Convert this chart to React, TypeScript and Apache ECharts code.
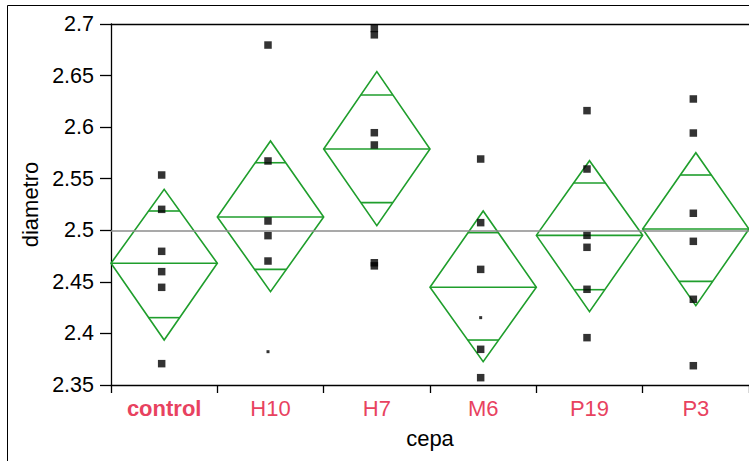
import React, { useEffect, useRef } from "react";
import * as echarts from "echarts";

const categories = ["control", "H10", "H7", "M6", "P19", "P3"];

// individual observations (large squares), per category
const pointsControl = [2.5536, 2.5203, 2.4796, 2.4599, 2.4447, 2.3707];
const pointsH10 = [2.6796, 2.5672, 2.509, 2.4948, 2.4702];
const pointsH7 = [2.6956, 2.6895, 2.5946, 2.5827, 2.4685, 2.4655];
const pointsM6 = [2.5691, 2.5074, 2.4621, 2.3846, 2.3571];
const pointsP19 = [2.616, 2.5594, 2.4951, 2.4835, 2.4428, 2.3959];
const pointsP3 = [2.6273, 2.5943, 2.5165, 2.4893, 2.4331, 2.3687];
const pointGroups = [pointsControl, pointsH10, pointsH7, pointsM6, pointsP19, pointsP3];

// small dots
const smallPointCategory = [1, 3];
const smallPointValues = [2.3823, 2.4153];

// means diamonds
const diamondTop = [2.5397, 2.5866, 2.6538, 2.5187, 2.5675, 2.5752];
const diamondUpper = [2.5187, 2.5655, 2.6312, 2.4977, 2.5458, 2.5536];
const means = [2.468, 2.5129, 2.5788, 2.4447, 2.4951, 2.5012];
const diamondLower = [2.4153, 2.4621, 2.5268, 2.3936, 2.4424, 2.4505];
const diamondBottom = [2.3936, 2.4405, 2.5045, 2.3726, 2.4211, 2.4269];

const grandMean = 2.501;

const yTicks = { min: 2.35, max: 2.7, interval: 0.05 };

const GREEN = "#1f9e2c";
const LABEL = "#e8425f";
const FONT = "'Liberation Sans', Arial, sans-serif";

export default function App() {
  const ref = useRef<HTMLDivElement>(null);

  useEffect(() => {
    if (!ref.current) return;
    const chart = echarts.init(ref.current, undefined, { renderer: "svg" });

    const scatterData: number[][] = [];
    pointGroups.forEach((g, i) => g.forEach((v) => scatterData.push([i, v])));
    const smallData = smallPointCategory.map((c, k) => [c, smallPointValues[k]]);
    const diamondData = categories.map((_, i) => [
      i,
      diamondTop[i],
      diamondUpper[i],
      means[i],
      diamondLower[i],
      diamondBottom[i],
    ]);

    const option: any = {
      animation: false,
      backgroundColor: "#fff",
      grid: {
        left: 111,
        top: 24,
        width: 642,
        height: 361,
        show: false,
      },
      graphic: [
        {
          type: "rect",
          z: -10,
          shape: { x: 7.5, y: 5.5, width: 800, height: 500 },
          style: { fill: "none", stroke: "#000", lineWidth: 1 },
          silent: true,
        },
      ],
      xAxis: [
        {
          type: "category",
          data: categories,
          boundaryGap: true,
          name: "cepa",
          nameLocation: "middle",
          nameGap: 42,
          nameTextStyle: { fontSize: 22, color: "#000", fontFamily: FONT },
          axisLine: { show: true, lineStyle: { color: "#000", width: 1.3 } },
          axisTick: { show: true, interval: 0, length: 8, lineStyle: { color: "#000", width: 1.3 } },
          axisLabel: {
            interval: 0,
            margin: 12,
            fontSize: 22,
            color: LABEL,
            fontFamily: FONT,
            formatter: (v: string) => (v === "control" ? "{b|" + v + "}" : v),
            rich: {
              b: { fontSize: 22, fontWeight: "bold", color: LABEL, fontFamily: FONT },
            },
          },
          splitLine: { show: false },
        },
        {
          type: "category",
          data: categories,
          position: "top",
          axisLine: { show: true, lineStyle: { color: "#000", width: 1.3 } },
          axisTick: { show: false },
          axisLabel: { show: false },
          splitLine: { show: false },
        },
      ],
      yAxis: {
        type: "value",
        min: yTicks.min,
        max: yTicks.max,
        interval: yTicks.interval,
        name: "diametro",
        nameLocation: "middle",
        nameGap: 63,
        nameTextStyle: { fontSize: 22, color: "#000", fontFamily: FONT },
        axisLine: { show: true, lineStyle: { color: "#000", width: 1.3 } },
        axisTick: { show: true, length: 11, lineStyle: { color: "#000", width: 1.3 } },
        axisLabel: {
          margin: 17,
          fontSize: 21.5,
          color: "#000",
          fontFamily: FONT,
        },
        splitLine: { show: false },
      },
      series: [
        {
          type: "line",
          data: [],
          markLine: {
            silent: true,
            symbol: "none",
            label: { show: false },
            lineStyle: { color: "#8c8c8c", width: 1.5, type: "solid" },
            data: [{ yAxis: grandMean }],
          },
          z: 1,
        },
        {
          type: "custom",
          z: 2,
          data: diamondData,
          encode: { x: 0, y: [1, 2, 3, 4, 5] },
          renderItem: (params: any, api: any) => {
            const i = api.value(0);
            const c = api.coord([i, api.value(3)]);
            const hw = api.size([1, 0])[0] / 2;
            const yt = api.coord([i, api.value(1)])[1];
            const yu = api.coord([i, api.value(2)])[1];
            const yl = api.coord([i, api.value(4)])[1];
            const yb = api.coord([i, api.value(5)])[1];
            const cx = c[0];
            const ym = c[1];
            const wAt = (y: number) =>
              y < ym ? (hw * (y - yt)) / (ym - yt) : (hw * (yb - y)) / (yb - ym);
            const st = { stroke: GREEN, lineWidth: 1.6, fill: "none" };
            const wu = wAt(yu);
            const wl = wAt(yl);
            return {
              type: "group",
              children: [
                {
                  type: "polygon",
                  shape: {
                    points: [
                      [cx - hw, ym],
                      [cx, yt],
                      [cx + hw, ym],
                      [cx, yb],
                    ],
                  },
                  style: st,
                },
                { type: "line", shape: { x1: cx - hw, y1: ym, x2: cx + hw, y2: ym }, style: st },
                { type: "line", shape: { x1: cx - wu, y1: yu, x2: cx + wu, y2: yu }, style: st },
                { type: "line", shape: { x1: cx - wl, y1: yl, x2: cx + wl, y2: yl }, style: st },
              ],
            };
          },
        },
        {
          type: "scatter",
          z: 3,
          data: scatterData,
          symbol: "rect",
          symbolSize: 7.5,
          symbolOffset: [-2.5, 0],
          itemStyle: { color: "#000" },
        },
        {
          type: "scatter",
          z: 3,
          data: smallData,
          symbol: "rect",
          symbolSize: 3,
          symbolOffset: [-2.5, 0],
          itemStyle: { color: "#000" },
        },
      ],
    };

    chart.setOption(option);
    return () => chart.dispose();
  }, []);

  return (
    <div
      ref={ref}
      style={{ position: "absolute", left: 0, top: 0, width: 749, height: 461, background: "#fff" }}
    />
  );
}
